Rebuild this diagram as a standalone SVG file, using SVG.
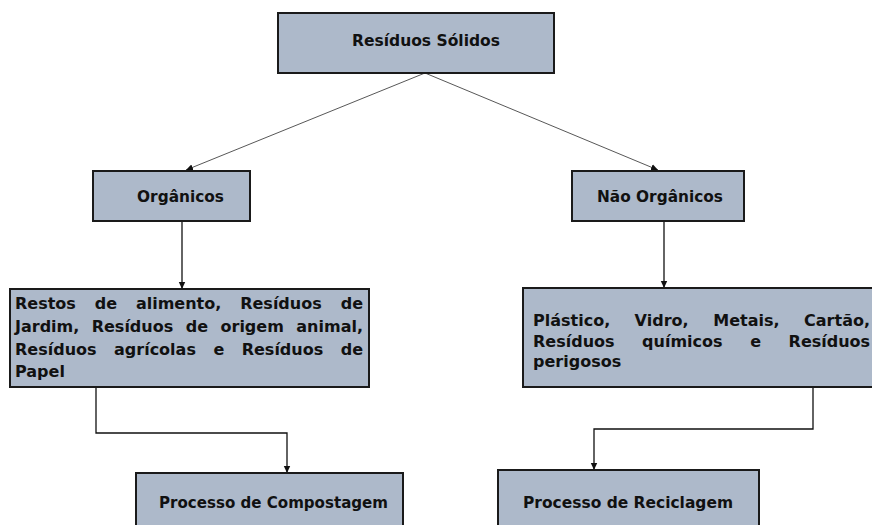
<svg xmlns="http://www.w3.org/2000/svg" width="872" height="525" viewBox="0 0 872 525">
  <style>
    .box { fill: #ADB9CA; stroke: #1a1a1a; stroke-width: 2; }
    .lbl { font-family: "DejaVu Sans", "Liberation Sans", sans-serif; font-weight: bold; font-size: 15.3px; fill: #111; }
    .body { font-family: "DejaVu Sans", "Liberation Sans", sans-serif; font-weight: bold; font-size: 16px; fill: #111; }
    .end { text-anchor: end; }
    .diag { fill: none; stroke: #444; stroke-width: 0.9; }
    .orth { fill: none; stroke: #111; stroke-width: 1.3; }
  </style>
  <defs>
    <marker id="arr" markerUnits="userSpaceOnUse" markerWidth="8" markerHeight="8" refX="7" refY="4" orient="auto">
      <path d="M0,0.8 L7,4 L0,7.2 Z" fill="#111"/>
    </marker>
  </defs>
  <rect width="872" height="525" fill="#ffffff"/>

  <g id="connectors">
    <path class="diag" d="M425,73 L186,170" marker-end="url(#arr)"/>
    <path class="diag" d="M425,73 L658,170" marker-end="url(#arr)"/>
    <path class="orth" d="M182,221 L182,289" marker-end="url(#arr)"/>
    <path class="orth" d="M664,221 L664,288" marker-end="url(#arr)"/>
    <path class="orth" d="M96,387 L96,433 L287,433 L287,473" marker-end="url(#arr)"/>
    <path class="orth" d="M813,387 L813,429 L594,429 L594,470" marker-end="url(#arr)"/>
  </g>

  <g id="residuos-solidos">
    <rect class="box" x="278" y="13" width="276" height="60"/>
    <text class="lbl" x="352" y="46" textLength="148" lengthAdjust="spacingAndGlyphs">Resíduos Sólidos</text>
  </g>

  <g id="organicos">
    <rect class="box" x="93" y="171" width="157" height="50"/>
    <text class="lbl" x="137" y="202" textLength="87" lengthAdjust="spacingAndGlyphs">Orgânicos</text>
  </g>

  <g id="nao-organicos">
    <rect class="box" x="572" y="171" width="172" height="50"/>
    <text class="lbl" x="597" y="202" textLength="126" lengthAdjust="spacingAndGlyphs">Não Orgânicos</text>
  </g>

  <g id="lista-organicos">
    <rect class="box" x="10" y="289" width="359" height="98"/>
    <text class="body" x="15" y="309">Restos</text>
    <text class="body" x="94.7" y="309">de</text>
    <text class="body" x="135.9" y="309">alimento,</text>
    <text class="body" x="240.2" y="309">Resíduos</text>
    <text class="body end" x="363" y="309">de</text>
    <text class="body" x="15" y="332">Jardim,</text>
    <text class="body" x="91.7" y="332">Resíduos</text>
    <text class="body" x="185.7" y="332">de</text>
    <text class="body" x="220.5" y="332">origem</text>
    <text class="body end" x="363" y="332">animal,</text>
    <text class="body" x="15" y="354.5">Resíduos</text>
    <text class="body" x="114" y="354.5">agrícolas</text>
    <text class="body" x="213.4" y="354.5">e</text>
    <text class="body" x="241.7" y="354.5">Resíduos</text>
    <text class="body end" x="363" y="354.5">de</text>
    <text class="body" x="15" y="377">Papel</text>
  </g>

  <g id="lista-nao-organicos">
    <rect class="box" x="523" y="288" width="360" height="99"/>
    <text class="body" x="533" y="326">Plástico,</text>
    <text class="body" x="634.6" y="326">Vidro,</text>
    <text class="body" x="713.3" y="326">Metais,</text>
    <text class="body end" x="870" y="326">Cartão,</text>
    <text class="body" x="533" y="346.5">Resíduos</text>
    <text class="body" x="642.1" y="346.5">químicos</text>
    <text class="body" x="750.2" y="346.5">e</text>
    <text class="body" x="788.6" y="346.5">Resíduos</text>
    <text class="body" x="533" y="367">perigosos</text>
  </g>

  <g id="compostagem">
    <rect class="box" x="136" y="473" width="267" height="70"/>
    <text class="lbl" x="159" y="508" textLength="229" lengthAdjust="spacingAndGlyphs">Processo de Compostagem</text>
  </g>

  <g id="reciclagem">
    <rect class="box" x="498" y="470" width="261" height="73"/>
    <text class="lbl" x="523" y="508" textLength="210" lengthAdjust="spacingAndGlyphs">Processo de Reciclagem</text>
  </g>
</svg>
